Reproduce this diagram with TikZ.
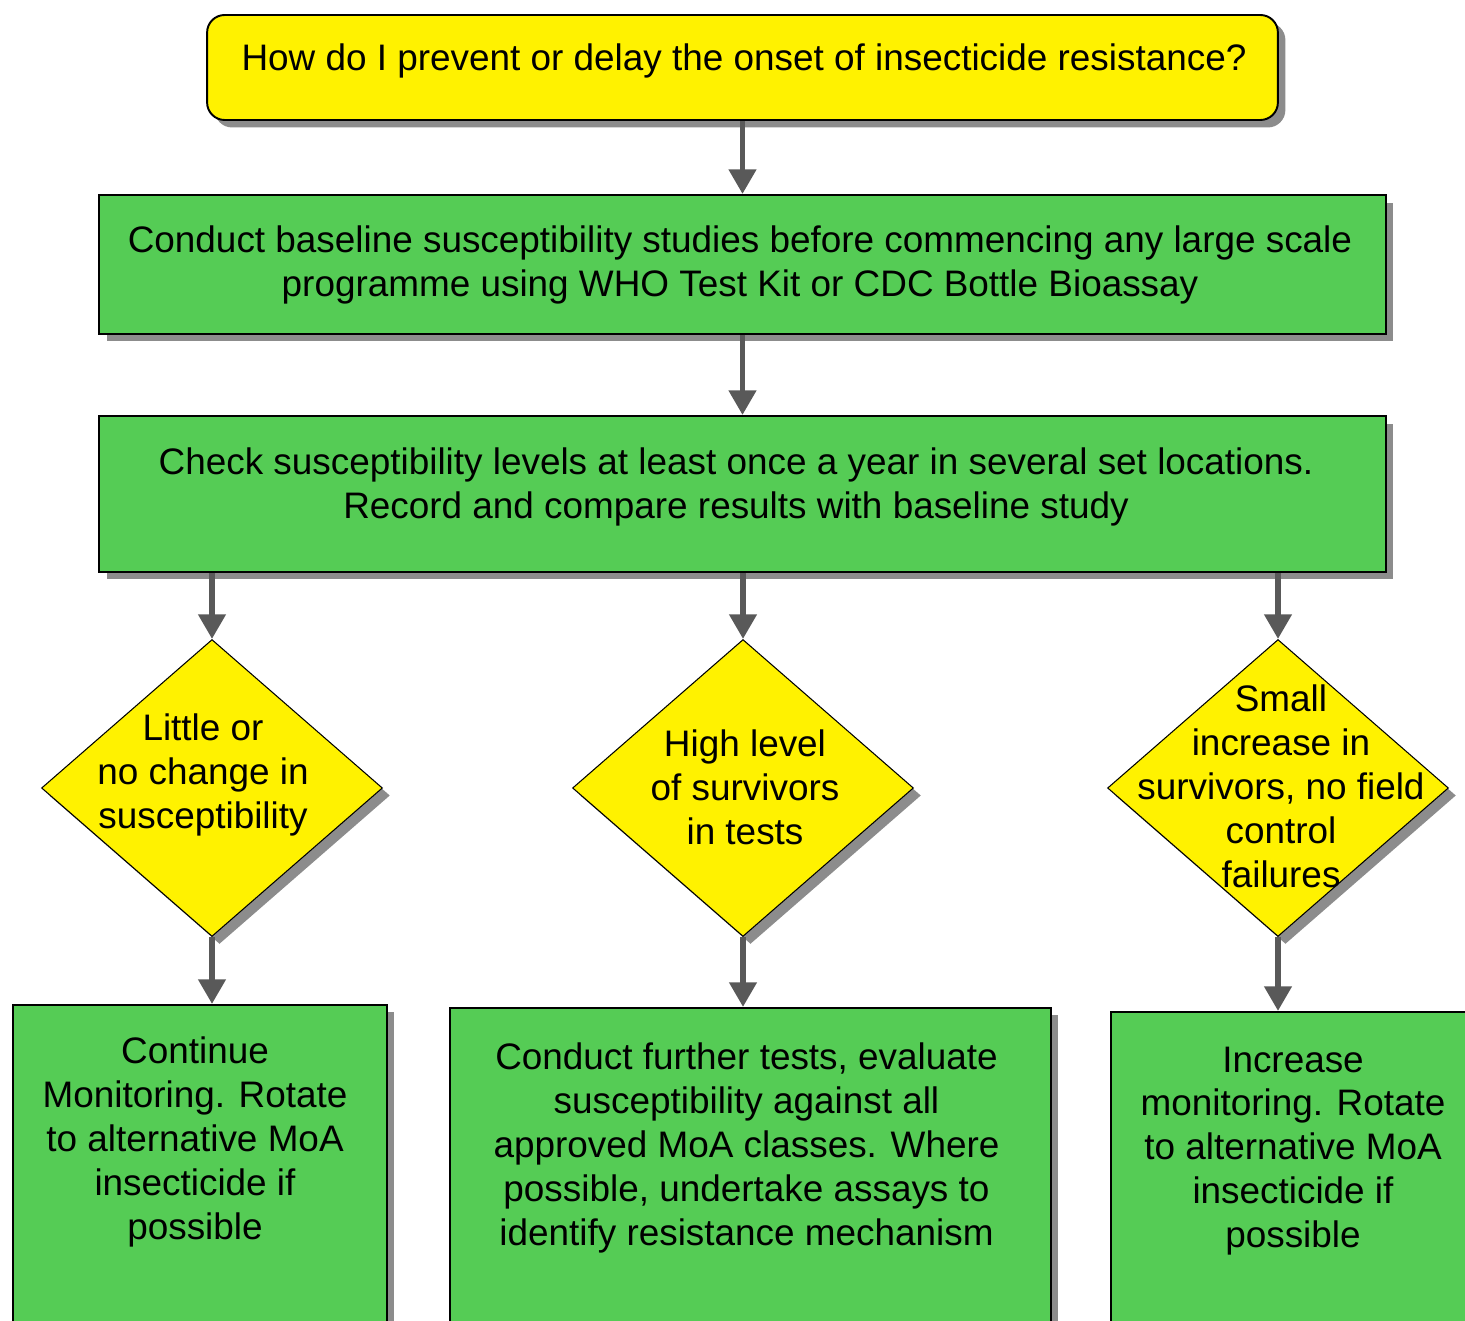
\documentclass[tikz,border=0pt]{standalone}
\usepackage{fontspec}
\setmainfont{Liberation Sans}
\usepackage{xcolor}
\usetikzlibrary{shapes.geometric, arrows.meta, positioning, shadows}
\definecolor{boxgreen}{RGB}{85,204,85}
\definecolor{arrowgray}{RGB}{89,89,89}

\begin{document}
\begin{tikzpicture}[x=0.02cm, y=-0.02cm,
    every node/.style={font=\fontsize{21}{25}\selectfont, align=center},
    boxshadow/.style={drop shadow={shadow xshift=0.15cm, shadow yshift=-0.15cm, fill=black!45, opacity=1}},
    greenbox/.style={rectangle, draw, line width=1.1pt, fill=boxgreen, boxshadow},
    decision/.style={diamond, draw, line width=0.6pt, fill=yellow, minimum width=6.82cm, minimum height=5.94cm, inner sep=0pt, boxshadow},
    flowarrow/.style={-{Triangle[length=14pt, width=15pt]}, line width=3.4pt, draw=arrowgray}]
    \clip (0,0) rectangle (1465,1321);

    % question and the two study steps
    \node (question) [rectangle, draw, line width=1.1pt, rounded corners=0.35cm, fill=yellow, boxshadow, minimum width=21.42cm, minimum height=2.1cm] at (742.5,67.5) {};
    \node (questiontext) at (744,61) {How do I prevent or delay the onset of insecticide resistance?};
    \node (baseline) [greenbox, minimum width=25.74cm, minimum height=2.78cm] at (742.5,264.5) {};
    \node (baselinetext) at (740,265) {Conduct baseline susceptibility studies before commencing any large scale\\programme using WHO Test Kit or CDC Bottle Bioassay};
    \node (check) [greenbox, minimum width=25.74cm, minimum height=3.12cm] at (742.5,494) {};
    \node (checktext) at (736,487) {Check susceptibility levels at least once a year in several set locations.\\Record and compare results with baseline study};

    % outcomes
    \node (little) [decision] at (212,788) {};
    \node (littletext) at (203,775) {Little or\\no change in\\susceptibility};
    \node (high) [decision] at (743,788) {};
    \node (hightext) at (745,787) {High level\\of survivors\\in tests};
    \node (small) [decision] at (1278,788) {};
    \node (smalltext) at (1281,786) {Small\\increase in\\survivors, no field\\control\\failures};

    % actions
    \node (continue) [greenbox, anchor=north, minimum width=7.48cm, minimum height=7cm] at (200,1004) {};
    \node (continuetext) at (195,1142) {Continue\\Monitoring. Rotate\\to alternative MoA\\insecticide if\\possible};
    \node (further) [greenbox, anchor=north, minimum width=12.02cm, minimum height=7cm] at (750.5,1007) {};
    \node (furthertext) at (746.5,1148) {Conduct further tests, evaluate\\susceptibility against all\\approved MoA classes. Where\\possible, undertake assays to\\identify resistance mechanism};
    \node (increase) [greenbox, anchor=north, minimum width=7.28cm, minimum height=7cm] at (1293,1011) {};
    \node (increasetext) at (1293,1151) {Increase\\monitoring. Rotate\\to alternative MoA\\insecticide if\\possible};

    \draw [flowarrow] (question) -- (baseline);
    \draw [flowarrow] (baseline) -- (check);
    \draw [flowarrow] (check.south -| little.north) -- (little.north);
    \draw [flowarrow] (check.south -| high.north) -- (high.north);
    \draw [flowarrow] (check.south -| small.north) -- (small.north);
    \draw [flowarrow] (little.south) -- (little.south |- continue.north);
    \draw [flowarrow] (high.south) -- (high.south |- further.north);
    \draw [flowarrow] (small.south) -- (small.south |- increase.north);
\end{tikzpicture}
\end{document}
